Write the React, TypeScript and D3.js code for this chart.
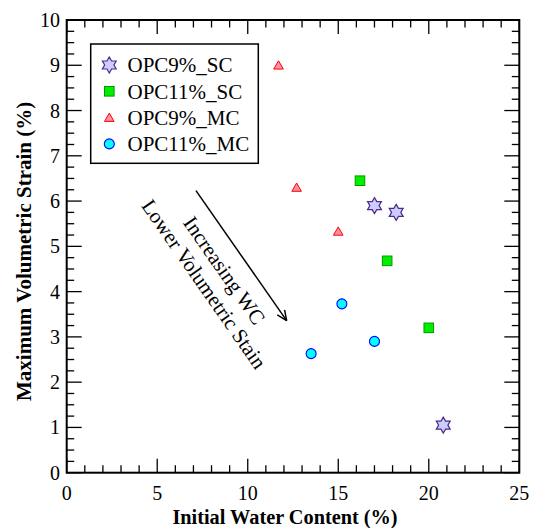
import React from "react";
import * as d3 from "d3";

const W = 534;
const H = 528;

// Series data (x: initial water content %, y: max volumetric strain %)
const opc9scX = [17.0, 18.2, 20.8];
const opc9scY = [5.9, 5.75, 1.05];
const opc11scX = [16.2, 17.7, 20.0];
const opc11scY = [6.45, 4.68, 3.2];
const opc9mcX = [11.7, 12.7, 15.0];
const opc9mcY = [9.0, 6.3, 5.33];
const opc11mcX = [13.5, 15.2, 17.0];
const opc11mcY = [2.63, 3.73, 2.9];

const seriesNames = ["OPC9%_SC", "OPC11%_SC", "OPC9%_MC", "OPC11%_MC"];
const xTicks = [0, 5, 10, 15, 20, 25];
const yTicks = [0, 1, 2, 3, 4, 5, 6, 7, 8, 9, 10];

// annotation (data coordinates)
const arrowFrom = [7.14, 6.23];
const arrowTo = [12.15, 3.36];
const annoLine1 = { text: "Increasing WC", at: [8.72, 4.47] };
const annoLine2 = { text: "Lower Volumetric Stain", at: [7.6, 4.17] };

const FONT = "'Liberation Serif', 'Times New Roman', serif";

const x = d3.scaleLinear().domain([0, 25]).range([66.7, 519.3]);
const y = d3.scaleLinear().domain([0, 10]).range([472.7, 20]);

function star(cx: number, cy: number, R: number) {
  const r = R / Math.sqrt(3);
  const pts: string[] = [];
  for (let i = 0; i < 12; i++) {
    const a = (-90 + i * 30) * (Math.PI / 180);
    const rr = i % 2 === 0 ? R : r;
    pts.push(`${cx + rr * Math.cos(a)},${cy + rr * Math.sin(a)}`);
  }
  return pts.join(" ");
}

function Marker({ kind, cx, cy }: { kind: number; cx: number; cy: number }) {
  if (kind === 0)
    return <polygon points={star(cx, cy, 8)} fill="#ccccff" stroke="#4b2a8c" strokeWidth={1.2} />;
  if (kind === 1)
    return <rect x={cx - 4.8} y={cy - 4.8} width={9.6} height={9.6} fill="#00ee00" stroke="#009a00" strokeWidth={1} />;
  if (kind === 2)
    return (
      <polygon
        points={`${cx},${cy - 4.5} ${cx + 4.8},${cy + 3.8} ${cx - 4.8},${cy + 3.8}`}
        fill="#ff8fa3"
        stroke="#ff0000"
        strokeWidth={1}
      />
    );
  return <circle cx={cx} cy={cy} r={5} fill="#00ffff" stroke="#0000ff" strokeWidth={1.1} />;
}

export default function App() {
  const series = [
    { xs: opc9scX, ys: opc9scY },
    { xs: opc11scX, ys: opc11scY },
    { xs: opc9mcX, ys: opc9mcY },
    { xs: opc11mcX, ys: opc11mcY },
  ];
  const xMinor = d3.range(0, 25.001, 1);
  const yMinor = d3.range(0, 10.001, 0.25);
  const [x0, x1] = x.range();
  const [y0, y1] = y.range();

  const ax1 = x(arrowFrom[0]), ay1 = y(arrowFrom[1]);
  const ax2 = x(arrowTo[0]), ay2 = y(arrowTo[1]);
  const ang = Math.atan2(ay2 - ay1, ax2 - ax1);
  const hl = 11, ha = (24 * Math.PI) / 180;
  const angDeg = (ang * 180) / Math.PI;

  return (
    <svg width={W} height={H} style={{ position: "absolute", left: 0, top: 0, background: "#fff" }} fontFamily={FONT}>
      {xMinor.map((v) => {
        const major = Math.abs(v % 5) < 1e-9;
        const len = major ? 14 : 7.5;
        return (
          <g key={"xt" + v} stroke="#000" strokeWidth={1.3}>
            <line x1={x(v)} x2={x(v)} y1={y0} y2={y0 - len} />
            <line x1={x(v)} x2={x(v)} y1={y1} y2={y1 + len} />
          </g>
        );
      })}
      {yMinor.map((v) => {
        const major = Math.abs(v - Math.round(v)) < 1e-9;
        const len = major ? 15 : 7.5;
        return (
          <g key={"yt" + v} stroke="#000" strokeWidth={1.3}>
            <line x1={x0} x2={x0 + len} y1={y(v)} y2={y(v)} />
            <line x1={x1} x2={x1 - len} y1={y(v)} y2={y(v)} />
          </g>
        );
      })}
      <rect x={x0} y={y1} width={x1 - x0} height={y0 - y1} fill="none" stroke="#000" strokeWidth={2} />

      {xTicks.map((v) => (
        <text key={"xl" + v} x={x(v)} y={500} textAnchor="middle" fontSize={20}>
          {v}
        </text>
      ))}
      {yTicks.map((v) => (
        <text key={"yl" + v} x={60} y={y(v)} dy="0.35em" textAnchor="end" fontSize={20}>
          {v}
        </text>
      ))}

      <text x={(x0 + x1) / 2 - 8} y={524} textAnchor="middle" fontSize={20.3} fontWeight="bold">
        Initial Water Content (%)
      </text>
      <text transform={`translate(31,${(y0 + y1) / 2 + 5}) rotate(-90)`} textAnchor="middle" fontSize={21} fontWeight="bold">
        Maximum Volumetric Strain (%)
      </text>

      <line x1={ax1} y1={ay1} x2={ax2} y2={ay2} stroke="#000" strokeWidth={1.5} />
      <line x1={ax2} y1={ay2} x2={ax2 - hl * Math.cos(ang - ha)} y2={ay2 - hl * Math.sin(ang - ha)} stroke="#000" strokeWidth={1.5} />
      <line x1={ax2} y1={ay2} x2={ax2 - hl * Math.cos(ang + ha)} y2={ay2 - hl * Math.sin(ang + ha)} stroke="#000" strokeWidth={1.5} />
      {[annoLine1, annoLine2].map((a) => (
        <text
          key={a.text}
          transform={`translate(${x(a.at[0])},${y(a.at[1])}) rotate(${angDeg})`}
          textAnchor="middle"
          dy="0.35em"
          fontSize={21}
        >
          {a.text}
        </text>
      ))}

      {series.map((s, i) => (
        <g key={"s" + i}>
          {s.xs.map((xv, j) => (
            <Marker key={j} kind={i} cx={x(xv)} cy={y(s.ys[j])} />
          ))}
        </g>
      ))}

      <rect x={90.7} y={44} width={167.6} height={119.3} fill="#fff" stroke="#000" strokeWidth={1.5} />
      {seriesNames.map((n, i) => {
        const cy = 65 + i * 26.3;
        return (
          <g key={n}>
            <Marker kind={i} cx={109.3} cy={cy} />
            <text x={127.5} y={cy} dy="0.35em" fontSize={21}>
              {n}
            </text>
          </g>
        );
      })}
    </svg>
  );
}
